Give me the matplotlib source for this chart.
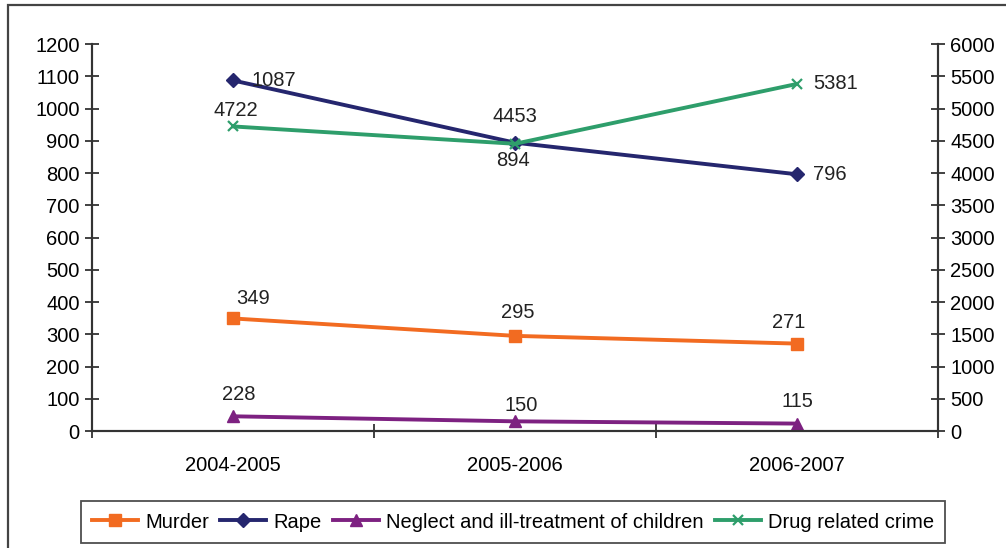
import matplotlib
matplotlib.use("Agg")
import matplotlib.pyplot as plt
from matplotlib.patches import Rectangle

plt.rcParams["font.family"] = ["Liberation Sans", "DejaVu Sans"]

periods = ["2004-2005", "2005-2006", "2006-2007"]
murder = [349, 295, 271]          # left axis
rape = [1087, 894, 796]           # left axis
neglect = [228, 150, 115]         # right axis
drug = [4722, 4453, 5381]         # right axis

C_MURDER = "#F26B21"
C_RAPE = "#25266E"
C_NEGLECT = "#7D2181"
C_DRUG = "#2E9E6B"
AX_COL = "#333333"
FS = 14.5

fig = plt.figure(figsize=(10.06, 5.48), dpi=100)
ax = fig.add_axes([0.0915, 0.2135, 0.8409, 0.7062])
ax2 = ax.twinx()

x = list(range(len(periods)))
lw = 2.8
l1, = ax.plot(x, murder, "-s", color=C_MURDER, lw=lw, ms=8, label="Murder")
l2, = ax.plot(x, rape, "-D", color=C_RAPE, lw=lw, ms=7, label="Rape")
l3, = ax2.plot(x, neglect, "-^", color=C_NEGLECT, lw=lw, ms=9,
               label="Neglect and ill-treatment of children")
l4, = ax2.plot(x, drug, "-x", color=C_DRUG, lw=lw, ms=7, mew=1.6,
               label="Drug related crime")

# value labels, offsets in pixels (dx, dy, ha)
def lab(a, xi, v, dx, dy, ha="center"):
    a.annotate(str(v), (xi, v), textcoords="offset points",
               xytext=(dx * 0.72, dy * 0.72), ha=ha, va="center", fontsize=FS,
               color="#222222")

for xi, v, d in zip(x, murder, [(20, 20), (3, 23), (-8, 21)]):
    lab(ax, xi, v, *d)
for xi, v, d in zip(x, neglect, [(6, 22), (6, 16), (0, 22)]):
    lab(ax2, xi, v, *d)
lab(ax, 0, rape[0], 18, 0, "left")
lab(ax, 1, rape[1], -2, -18)
lab(ax, 2, rape[2], 16, 0, "left")
lab(ax2, 0, drug[0], 3, 16)
lab(ax2, 1, drug[1], 0, 27)
lab(ax2, 2, drug[2], 16, 0, "left")

ax.set_xlim(-0.5, 2.5)
ax.set_ylim(0, 1200)
ax2.set_ylim(0, 6000)
ax.set_yticks(range(0, 1201, 100))
ax2.set_yticks(range(0, 6001, 500))
ax.set_xticks([-0.5, 0.5, 1.5, 2.5])
ax.set_xticklabels([])
ax.set_xticks(x, minor=True)
ax.set_xticklabels(periods, minor=True)
ax.tick_params(axis="x", which="minor", length=0, pad=18, labelsize=FS)
ax.tick_params(axis="x", which="major", direction="inout", length=10, width=1.3, color=AX_COL)
ax.tick_params(axis="y", direction="inout", length=10, width=1.3, color=AX_COL,
               labelsize=FS, pad=4)
ax2.tick_params(axis="y", direction="inout", length=10, width=1.3, color=AX_COL,
                labelsize=FS, pad=4)

for a in (ax, ax2):
    a.spines["top"].set_visible(False)
    for s in ("left", "right", "bottom"):
        a.spines[s].set_color(AX_COL)
        a.spines[s].set_linewidth(1.5)
    a.patch.set_visible(False)

# outer chart frame (runs off the right and bottom edges)
fig.patches.append(Rectangle((8 / 1006, -0.2), 1.2, 1.2 - 5 / 548,
                             transform=fig.transFigure, fill=False,
                             edgecolor="#444444", lw=1.6))

leg = fig.legend(handles=[l1, l2, l3, l4], loc="center",
                 bbox_to_anchor=(513 / 1006, 1 - 522 / 548), ncol=4, fontsize=FS,
                 frameon=True, fancybox=False, edgecolor="#222222",
                 handlelength=2.3, handletextpad=0.35, columnspacing=0.55,
                 borderpad=0.55)
leg.get_frame().set_linewidth(1.3)

fig.savefig("out.png", dpi=100)
